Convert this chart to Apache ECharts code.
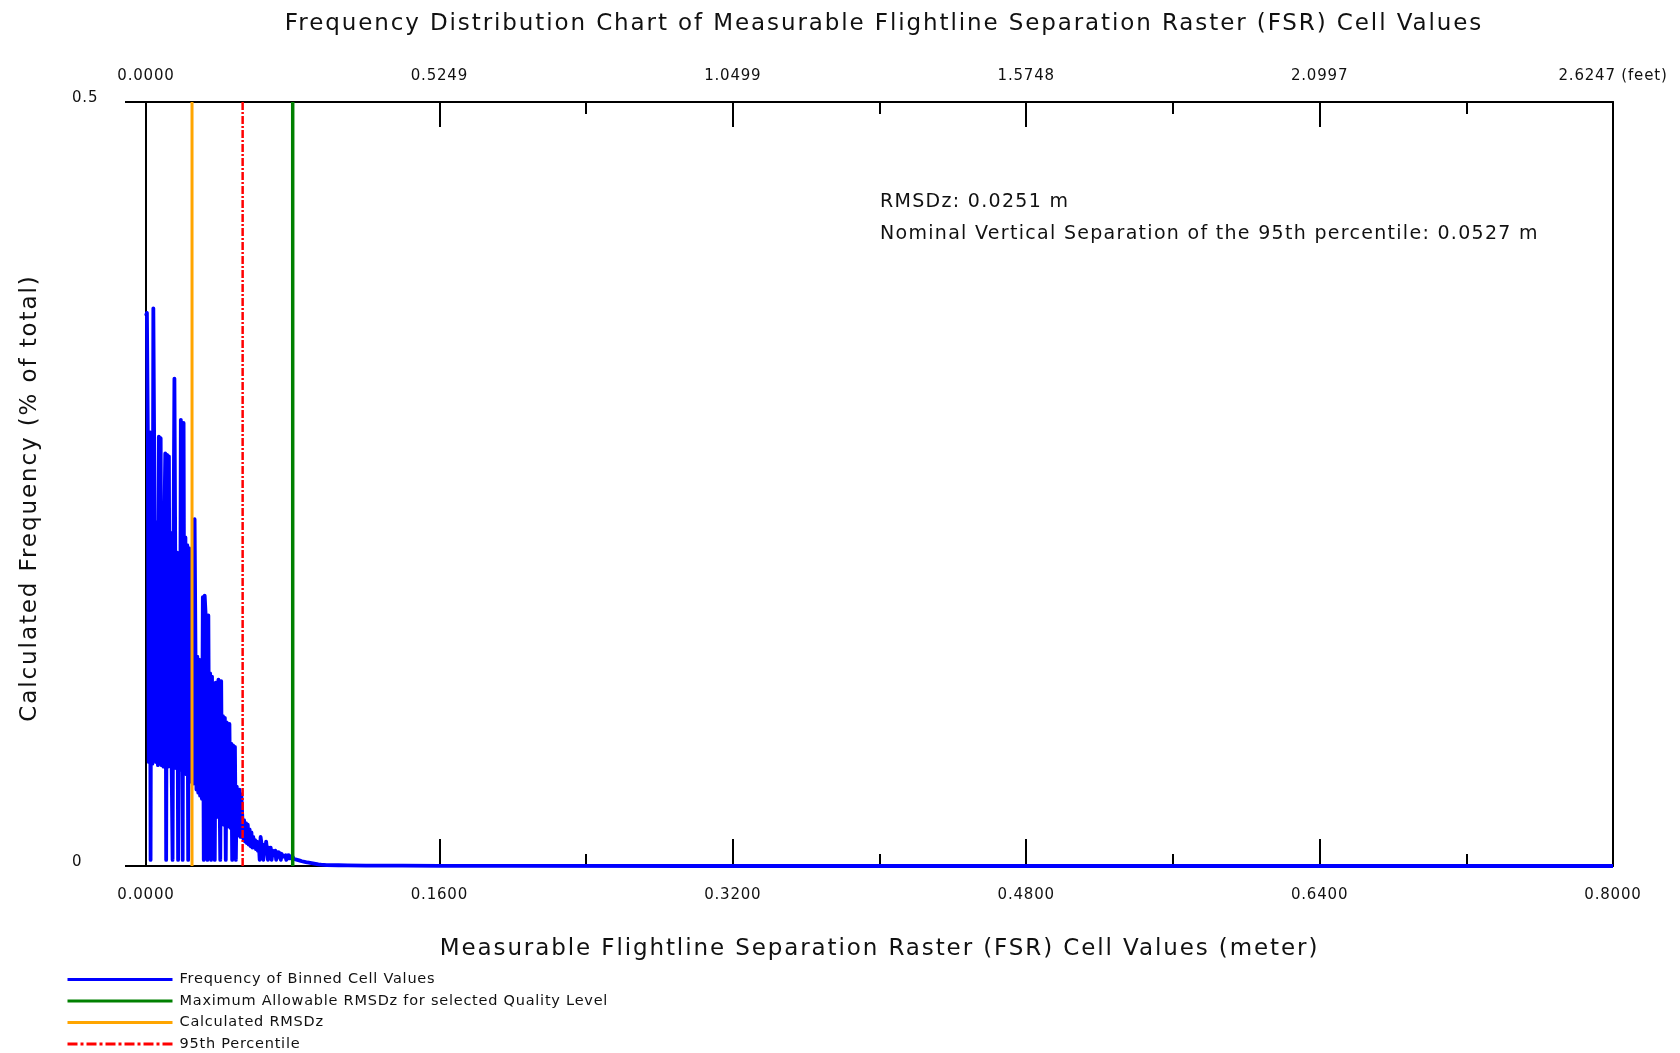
<!DOCTYPE html>
<html><head><meta charset="utf-8">
<script src="https://cdn.jsdelivr.net/npm/echarts@6/dist/echarts.min.js"></script>
<style>html,body{margin:0;padding:0;background:#fff}#chart{width:1680px;height:1053px}</style>
</head><body><div id="chart"></div>
<script>
// ---- data ----
const binWidthM = 0.0005; // histogram bin width (meters)
const freqBinned = [
  0.360, 0.362, 0.283, 0.068, 0.284, 0.004, 0.282, 0.067, 0.365, 0.366,
  0.364, 0.068, 0.225, 0.066, 0.281, 0.067, 0.280, 0.066, 0.223, 0.065,
  0.222, 0.270, 0.004, 0.269, 0.065, 0.268, 0.066, 0.218, 0.064, 0.004,
  0.212, 0.319, 0.318, 0.064, 0.205, 0.004, 0.200, 0.063, 0.292, 0.291,
  0.004, 0.290, 0.062, 0.215, 0.060, 0.210, 0.004, 0.208, 0.057, 0.207,
  0.055, 0.205, 0.054, 0.227, 0.226, 0.050, 0.137, 0.048, 0.135, 0.046,
  0.132, 0.044, 0.176, 0.004, 0.177, 0.165, 0.041, 0.004, 0.164, 0.039,
  0.126, 0.004, 0.124, 0.036, 0.118, 0.004, 0.120, 0.032, 0.115, 0.122,
  0.122, 0.004, 0.121, 0.029, 0.098, 0.027, 0.097, 0.004, 0.094, 0.094,
  0.026, 0.093, 0.025, 0.080, 0.004, 0.079, 0.023, 0.078, 0.004, 0.052,
  0.051, 0.020, 0.050, 0.019, 0.047, 0.046, 0.018, 0.030, 0.016, 0.028,
  0.015, 0.027, 0.014, 0.024, 0.013, 0.022, 0.012, 0.019, 0.012, 0.017,
  0.011, 0.016, 0.010, 0.015, 0.004, 0.019, 0.019, 0.010, 0.004, 0.014,
  0.009, 0.016, 0.016, 0.004, 0.012, 0.008, 0.012, 0.004, 0.010, 0.010,
  0.007, 0.010, 0.004, 0.009, 0.006, 0.009, 0.009, 0.004, 0.008, 0.006,
  0.007, 0.005, 0.007, 0.004, 0.007, 0.005, 0.007, 0.005, 0.006, 0.005,
  0.006, 0.0046, 0.0045, 0.0044, 0.0042, 0.0040, 0.0038, 0.0037, 0.0035, 0.0033,
  0.0031, 0.0030, 0.0028, 0.0027, 0.0026, 0.0024, 0.0023, 0.0022, 0.0021, 0.0020,
  0.0019, 0.0018, 0.0017, 0.0016, 0.0015, 0.0014, 0.0013, 0.0012, 0.0011, 0.0010,
  0.0010, 0.0009, 0.0009, 0.0008, 0.0008, 0.0007, 0.0007, 0.0006, 0.0006, 0.0005
];
const tailBinsM = [0.105, 0.11, 0.12, 0.14, 0.16, 0.20, 0.30, 0.50, 0.80];
const tailFreq  = [0.0005, 0.0004, 0.0003, 0.0002, 0.0001, 0.0001, 0, 0, 0];

const rmsdzM = 0.0251;          // calculated RMSDz
const p95M = 0.0527;            // 95th percentile
const maxAllowedM = 0.08;       // max allowable RMSDz for QL

const xMinM = 0, xMaxM = 0.8, xStepM = 0.16;
const yMin = 0, yMax = 0.5;
const meterTickLabels = ['0.0000', '0.1600', '0.3200', '0.4800', '0.6400', '0.8000'];
const feetTickLabels = ['0.0000', '0.5249', '1.0499', '1.5748', '2.0997', '2.6247 (feet)'];
const yTickLabels = ['0', '0.5'];

const seriesNames = [
  'Frequency of Binned Cell Values',
  'Maximum Allowable RMSDz for selected Quality Level',
  'Calculated RMSDz',
  '95th Percentile'
];

// ---- slightly wider letter spacing (the original typeface is airier than DejaVu) ----
(function () {
  const proto = CanvasRenderingContext2D.prototype;
  if (!('letterSpacing' in proto)) return;
  const orig = proto.fillText;
  proto.fillText = function (t, x, y, w) {
    const m = /([\d.]+)px/.exec(this.font);
    if (m) { const s = parseFloat(m[1]); this.letterSpacing = (0.0036 * s * s).toFixed(2) + 'px'; }
    return w === undefined ? orig.call(this, t, x, y) : orig.call(this, t, x, y, w);
  };
})();

// ---- build ----
const FONT = '"DejaVu Sans", Verdana, sans-serif';
const blueData = freqBinned.map((v, i) => [i * binWidthM, v])
  .concat(tailBinsM.map((x, i) => [x, tailFreq[i]]));
const vline = x => [[x, yMin], [x, yMax]];

const axisLineStyle = { color: '#000', width: 2 };
const TXT = '#111';

const chart = echarts.init(document.getElementById('chart'), null, { renderer: 'canvas' });
chart.setOption({
  animation: false,
  backgroundColor: '#fff',
  textStyle: { fontFamily: FONT, color: TXT },
  title: {
    text: 'Frequency Distribution Chart of Measurable Flightline Separation Raster (FSR) Cell Values',
    left: 879, top: 8, textAlign: 'center',
    textStyle: { fontFamily: FONT, fontSize: 23, fontWeight: 'normal', color: TXT }
  },
  grid: { left: 146, right: 67, top: 102, bottom: 187, containLabel: false },
  legend: {
    orient: 'vertical', left: 66, top: 972,
    itemWidth: 105, itemHeight: 15, itemGap: 6.5, padding: 0,
    textStyle: { fontFamily: FONT, fontSize: 14.5, lineHeight: 15, color: TXT, padding: [0, 0, 0, 2] },
    itemStyle: { opacity: 0 },
    lineStyle: { width: 3 },
    data: [
      { name: seriesNames[0] },
      { name: seriesNames[1] },
      { name: seriesNames[2] },
      { name: seriesNames[3], lineStyle: { type: [10, 3, 3, 3] } }
    ]
  },
  xAxis: [{
    type: 'value', position: 'bottom', min: xMinM, max: xMaxM, interval: xStepM,
    name: 'Measurable Flightline Separation Raster (FSR) Cell Values (meter)',
    nameLocation: 'middle', nameGap: 72,
    nameTextStyle: { fontFamily: FONT, fontSize: 23, color: TXT },
    axisLine: { show: true, onZero: false, lineStyle: axisLineStyle },
    axisTick: { show: true, inside: true, length: 27, lineStyle: axisLineStyle },
    minorTick: { show: true, splitNumber: 2, length: 12, lineStyle: axisLineStyle },
    axisLabel: { margin: 22, fontSize: 15, color: TXT, showMinLabel: true, showMaxLabel: true,
      formatter: v => meterTickLabels[Math.round(v / xStepM)] },
    splitLine: { show: false }, minorSplitLine: { show: false }
  }, {
    type: 'value', position: 'top', min: xMinM, max: xMaxM, interval: xStepM,
    axisLine: { show: true, onZero: false, lineStyle: axisLineStyle },
    axisTick: { show: true, inside: true, length: 25, lineStyle: axisLineStyle },
    minorTick: { show: true, splitNumber: 2, length: 12, lineStyle: axisLineStyle },
    axisLabel: { margin: 18, fontSize: 15, color: TXT, showMinLabel: true, showMaxLabel: true,
      formatter: v => feetTickLabels[Math.round(v / xStepM)] },
    splitLine: { show: false }, minorSplitLine: { show: false }
  }],
  yAxis: [{
    type: 'value', position: 'left', min: yMin, max: yMax, interval: yMax - yMin,
    axisLine: { show: true, onZero: false, lineStyle: axisLineStyle },
    axisTick: { show: true, inside: false, length: 21, lineStyle: axisLineStyle },
    axisLabel: { margin: 74, align: 'left', verticalAlign: 'bottom', lineHeight: 8,
      fontSize: 15, color: TXT,
      formatter: v => yTickLabels[Math.round(v / (yMax - yMin))] },
    splitLine: { show: false }
  }, {
    type: 'value', position: 'right', min: yMin, max: yMax,
    axisLine: { show: true, onZero: false, lineStyle: axisLineStyle },
    axisTick: { show: false }, axisLabel: { show: false }, splitLine: { show: false }
  }],
  graphic: [
    { type: 'text', x: 30, y: 498, rotation: Math.PI / 2,
      style: { text: 'Calculated Frequency (% of total)', font: '23px ' + FONT, fill: TXT,
               align: 'center', verticalAlign: 'middle' } },
    { type: 'text', x: 880, y: 202,
      style: { text: 'RMSDz: ' + rmsdzM.toFixed(4) + ' m', font: '19px ' + FONT, fill: TXT,
               align: 'left', verticalAlign: 'middle' } },
    { type: 'text', x: 880, y: 234.5,
      style: { text: 'Nominal Vertical Separation of the 95th percentile: ' + p95M.toFixed(4) + ' m',
               font: '19px ' + FONT, fill: TXT, align: 'left', verticalAlign: 'middle' } }
  ],
  series: [{
    name: seriesNames[0], type: 'line', xAxisIndex: 0, yAxisIndex: 0,
    data: blueData, symbol: 'none', showSymbol: false, sampling: null,
    lineStyle: { color: '#0000ff', width: 3.8, join: 'round' },
    itemStyle: { color: '#0000ff' }, z: 2
  }, {
    name: seriesNames[2], type: 'line', xAxisIndex: 0, yAxisIndex: 0,
    data: vline(rmsdzM), symbol: 'none',
    lineStyle: { color: '#ffa500', width: 3 }, itemStyle: { color: '#ffa500' }, z: 3
  }, {
    name: seriesNames[3], type: 'line', xAxisIndex: 0, yAxisIndex: 0,
    data: vline(p95M), symbol: 'none',
    lineStyle: { color: '#ff0000', width: 2.5, type: [8, 2, 2, 2] }, itemStyle: { color: '#ff0000' }, z: 3
  }, {
    name: seriesNames[1], type: 'line', xAxisIndex: 0, yAxisIndex: 0,
    data: vline(maxAllowedM), symbol: 'none',
    lineStyle: { color: '#008000', width: 3.5 }, itemStyle: { color: '#008000' }, z: 3
  }]
});
</script></body></html>
